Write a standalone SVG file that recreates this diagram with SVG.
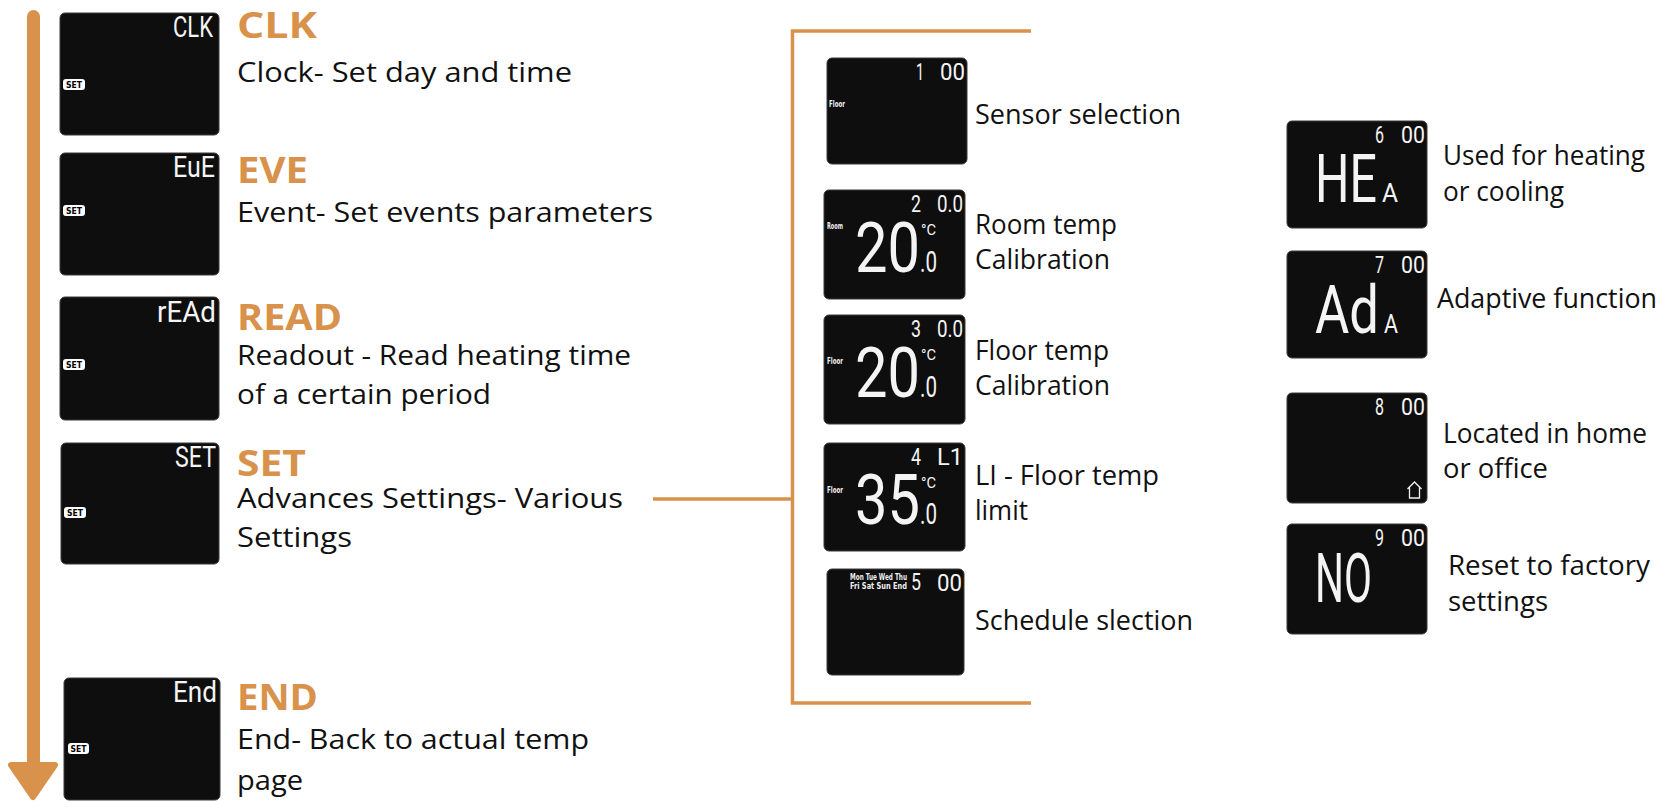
<svg xmlns="http://www.w3.org/2000/svg" width="1667" height="809" viewBox="0 0 1667 809">
<style>
.lcd{fill:#0e0e0e;stroke:#3a3a3a;stroke-width:1}
.seg{fill:#f4f4f4;font-family:"Roboto","Liberation Sans",sans-serif}
.tiny{fill:#f0f0f0;font-family:"DejaVu Sans Condensed","Liberation Sans Narrow","Roboto",sans-serif;font-weight:bold}
.badge{fill:#ffffff}
.badgetxt{fill:#000;font-family:"DejaVu Sans Condensed","Liberation Sans Narrow","Roboto",sans-serif;font-weight:bold;font-size:9px}
.title{fill:#D8924B;font-family:"Open Sans","Lato","Noto Sans",sans-serif;font-weight:bold;font-size:35px}
.desc{fill:#111;font-family:"Open Sans","Lato","Noto Sans",sans-serif;font-size:27px}
.conn{fill:none;stroke:#D8924B;stroke-width:3.5}
</style>

<g id="flow-arrow">
  <rect x="27" y="10" width="13" height="758" rx="6.5" fill="#D8924B"/>
  <polygon points="11,765 55,765 33,797" fill="#D8924B" stroke="#D8924B" stroke-width="6" stroke-linejoin="round"/>
</g>

<g id="connectors">
  <line class="conn" x1="653" y1="499" x2="792.5" y2="499"/>
  <path class="conn" d="M1031,31 H792.5 V703 H1031"/>
</g>

<!-- Left column -->
<g id="node-clk">
  <g transform="translate(60,13)">
    <rect class="lcd" x="0" y="0" width="159" height="122" rx="5"/>
    <text class="seg" x="113" y="24" font-size="29" textLength="40" lengthAdjust="spacingAndGlyphs">CLK</text>
    <rect class="badge" x="3" y="66" width="22" height="11" rx="3"/>
    <text class="badgetxt" x="14" y="75" text-anchor="middle" textLength="16" lengthAdjust="spacingAndGlyphs">SET</text>
  </g>
  <text class="title" x="237" y="38" textLength="80" lengthAdjust="spacingAndGlyphs">CLK</text>
  <text class="desc" x="237" y="82" textLength="335" lengthAdjust="spacingAndGlyphs">Clock- Set day and time</text>
</g>

<g id="node-eve">
  <g transform="translate(60,153)">
    <rect class="lcd" x="0" y="0" width="159" height="122" rx="5"/>
    <text class="seg" x="113" y="24" font-size="29" textLength="42" lengthAdjust="spacingAndGlyphs">EuE</text>
    <rect class="badge" x="3" y="52" width="22" height="11" rx="3"/>
    <text class="badgetxt" x="14" y="61" text-anchor="middle" textLength="16" lengthAdjust="spacingAndGlyphs">SET</text>
  </g>
  <text class="title" x="237" y="183" textLength="71" lengthAdjust="spacingAndGlyphs">EVE</text>
  <text class="desc" x="237" y="222" textLength="416" lengthAdjust="spacingAndGlyphs">Event- Set events parameters</text>
</g>

<g id="node-read">
  <g transform="translate(60,297)">
    <rect class="lcd" x="0" y="0" width="159" height="123" rx="5"/>
    <text class="seg" x="97" y="25" font-size="29" textLength="59" lengthAdjust="spacingAndGlyphs">rEAd</text>
    <rect class="badge" x="3" y="62" width="22" height="11" rx="3"/>
    <text class="badgetxt" x="14" y="71" text-anchor="middle" textLength="16" lengthAdjust="spacingAndGlyphs">SET</text>
  </g>
  <text class="title" x="237" y="330" textLength="105" lengthAdjust="spacingAndGlyphs">READ</text>
  <text class="desc" x="237" y="365" textLength="394" lengthAdjust="spacingAndGlyphs">Readout - Read heating time</text>
  <text class="desc" x="237" y="404" textLength="254" lengthAdjust="spacingAndGlyphs">of a certain period</text>
</g>

<g id="node-set">
  <g transform="translate(61,443)">
    <rect class="lcd" x="0" y="0" width="158" height="121" rx="5"/>
    <text class="seg" x="114" y="24" font-size="29" textLength="41" lengthAdjust="spacingAndGlyphs">SET</text>
    <rect class="badge" x="3" y="64" width="22" height="11" rx="3"/>
    <text class="badgetxt" x="14" y="73" text-anchor="middle" textLength="16" lengthAdjust="spacingAndGlyphs">SET</text>
  </g>
  <text class="title" x="237" y="476" textLength="69" lengthAdjust="spacingAndGlyphs">SET</text>
  <text class="desc" x="237" y="508" textLength="386" lengthAdjust="spacingAndGlyphs">Advances Settings- Various</text>
  <text class="desc" x="237" y="547" textLength="115" lengthAdjust="spacingAndGlyphs">Settings</text>
</g>

<g id="node-end">
  <g transform="translate(64,678)">
    <rect class="lcd" x="0" y="0" width="156" height="122" rx="5"/>
    <text class="seg" x="109" y="24" font-size="29" textLength="44" lengthAdjust="spacingAndGlyphs">End</text>
    <rect class="badge" x="4" y="65" width="21" height="11" rx="3"/>
    <text class="badgetxt" x="14.5" y="74" text-anchor="middle" textLength="16" lengthAdjust="spacingAndGlyphs">SET</text>
  </g>
  <text class="title" x="237" y="710" textLength="81" lengthAdjust="spacingAndGlyphs">END</text>
  <text class="desc" x="237" y="749" textLength="352" lengthAdjust="spacingAndGlyphs">End- Back to actual temp</text>
  <text class="desc" x="237" y="790" textLength="66" lengthAdjust="spacingAndGlyphs">page</text>
</g>

<!-- Middle column -->
<g id="node-1">
  <g transform="translate(827,58)">
    <rect class="lcd" x="0" y="0" width="140" height="106" rx="5"/>
    <text class="seg" x="89" y="22" font-size="23" textLength="8" lengthAdjust="spacingAndGlyphs">1</text>
    <text class="seg" x="113" y="22" font-size="23" textLength="25" lengthAdjust="spacingAndGlyphs">00</text>
    <text class="tiny" x="2" y="49" font-size="8.5" textLength="16" lengthAdjust="spacingAndGlyphs">Floor</text>
  </g>
  <text class="desc" x="975" y="124" textLength="206" lengthAdjust="spacingAndGlyphs">Sensor selection</text>
</g>

<g id="node-2">
  <g transform="translate(824,190)">
    <rect class="lcd" x="0" y="0" width="141" height="109" rx="5"/>
    <text class="seg" x="87" y="22" font-size="23" textLength="10" lengthAdjust="spacingAndGlyphs">2</text>
    <text class="seg" x="113" y="22" font-size="23" textLength="26" lengthAdjust="spacingAndGlyphs">0.0</text>
    <text class="tiny" x="3" y="39" font-size="8.5" textLength="16" lengthAdjust="spacingAndGlyphs">Room</text>
    <text class="seg" x="31" y="82" font-size="70" textLength="65" lengthAdjust="spacingAndGlyphs">20</text>
    <text class="seg" x="96" y="82" font-size="30" textLength="17" lengthAdjust="spacingAndGlyphs">.0</text>
    <text class="seg" x="97" y="45" font-size="15" textLength="15" lengthAdjust="spacingAndGlyphs">°C</text>
  </g>
  <text class="desc" x="975" y="234" textLength="142" lengthAdjust="spacingAndGlyphs">Room temp</text>
  <text class="desc" x="975" y="269" textLength="135" lengthAdjust="spacingAndGlyphs">Calibration</text>
</g>

<g id="node-3">
  <g transform="translate(824,315)">
    <rect class="lcd" x="0" y="0" width="141" height="109" rx="5"/>
    <text class="seg" x="87" y="22" font-size="23" textLength="10" lengthAdjust="spacingAndGlyphs">3</text>
    <text class="seg" x="113" y="22" font-size="23" textLength="26" lengthAdjust="spacingAndGlyphs">0.0</text>
    <text class="tiny" x="3" y="49" font-size="8.5" textLength="16" lengthAdjust="spacingAndGlyphs">Floor</text>
    <text class="seg" x="31" y="82" font-size="70" textLength="65" lengthAdjust="spacingAndGlyphs">20</text>
    <text class="seg" x="96" y="82" font-size="30" textLength="17" lengthAdjust="spacingAndGlyphs">.0</text>
    <text class="seg" x="97" y="45" font-size="15" textLength="15" lengthAdjust="spacingAndGlyphs">°C</text>
  </g>
  <text class="desc" x="975" y="360" textLength="134" lengthAdjust="spacingAndGlyphs">Floor temp</text>
  <text class="desc" x="975" y="395" textLength="135" lengthAdjust="spacingAndGlyphs">Calibration</text>
</g>

<g id="node-4">
  <g transform="translate(824,443)">
    <rect class="lcd" x="0" y="0" width="141" height="108" rx="5"/>
    <text class="seg" x="87" y="22" font-size="23" textLength="10" lengthAdjust="spacingAndGlyphs">4</text>
    <text class="seg" x="113" y="22" font-size="23" textLength="26" lengthAdjust="spacingAndGlyphs">L1</text>
    <text class="tiny" x="3" y="50" font-size="8.5" textLength="16" lengthAdjust="spacingAndGlyphs">Floor</text>
    <text class="seg" x="31" y="81" font-size="70" textLength="65" lengthAdjust="spacingAndGlyphs">35</text>
    <text class="seg" x="96" y="81" font-size="30" textLength="17" lengthAdjust="spacingAndGlyphs">.0</text>
    <text class="seg" x="97" y="45" font-size="15" textLength="15" lengthAdjust="spacingAndGlyphs">°C</text>
  </g>
  <text class="desc" x="975" y="485" textLength="184" lengthAdjust="spacingAndGlyphs">LI - Floor temp</text>
  <text class="desc" x="975" y="520" textLength="53" lengthAdjust="spacingAndGlyphs">limit</text>
</g>

<g id="node-5">
  <g transform="translate(827,569)">
    <rect class="lcd" x="0" y="0" width="137" height="106" rx="5"/>
    <text class="tiny" x="23" y="11" font-size="8" textLength="57" lengthAdjust="spacingAndGlyphs">Mon Tue Wed Thu</text>
    <text class="tiny" x="23" y="20" font-size="8" textLength="57" lengthAdjust="spacingAndGlyphs">Fri  Sat Sun End</text>
    <text class="seg" x="84" y="21" font-size="23" textLength="10" lengthAdjust="spacingAndGlyphs">5</text>
    <text class="seg" x="110" y="22" font-size="23" textLength="25" lengthAdjust="spacingAndGlyphs">00</text>
  </g>
  <text class="desc" x="975" y="630" textLength="218" lengthAdjust="spacingAndGlyphs">Schedule slection</text>
</g>

<!-- Right column -->
<g id="node-6">
  <g transform="translate(1287,121)">
    <rect class="lcd" x="0" y="0" width="140" height="107" rx="5"/>
    <text class="seg" x="88" y="22" font-size="23" textLength="9" lengthAdjust="spacingAndGlyphs">6</text>
    <text class="seg" x="114" y="22" font-size="23" textLength="24" lengthAdjust="spacingAndGlyphs">00</text>
    <text class="seg" x="28" y="81" font-size="66" textLength="62" lengthAdjust="spacingAndGlyphs">HE</text>
    <text class="seg" x="95" y="81" font-size="26" textLength="16" lengthAdjust="spacingAndGlyphs">A</text>
  </g>
  <text class="desc" x="1443" y="165" textLength="202" lengthAdjust="spacingAndGlyphs">Used for heating</text>
  <text class="desc" x="1443" y="201" textLength="121" lengthAdjust="spacingAndGlyphs">or cooling</text>
</g>

<g id="node-7">
  <g transform="translate(1287,251)">
    <rect class="lcd" x="0" y="0" width="140" height="107" rx="5"/>
    <text class="seg" x="88" y="22" font-size="23" textLength="9" lengthAdjust="spacingAndGlyphs">7</text>
    <text class="seg" x="114" y="22" font-size="23" textLength="24" lengthAdjust="spacingAndGlyphs">00</text>
    <text class="seg" x="28" y="82" font-size="66" textLength="64" lengthAdjust="spacingAndGlyphs">Ad</text>
    <text class="seg" x="97" y="82" font-size="26" textLength="14" lengthAdjust="spacingAndGlyphs">A</text>
  </g>
  <text class="desc" x="1437" y="308" textLength="220" lengthAdjust="spacingAndGlyphs">Adaptive function</text>
</g>

<g id="node-8">
  <g transform="translate(1287,393)">
    <rect class="lcd" x="0" y="0" width="140" height="110" rx="5"/>
    <text class="seg" x="88" y="22" font-size="23" textLength="9" lengthAdjust="spacingAndGlyphs">8</text>
    <text class="seg" x="114" y="22" font-size="23" textLength="24" lengthAdjust="spacingAndGlyphs">00</text>
    <path d="M120.5,96 L127.5,89 L134.5,96 M122.5,94.5 V105 H132.5 V94.5" fill="none" stroke="#f0f0f0" stroke-width="1.3"/>
  </g>
  <text class="desc" x="1443" y="443" textLength="204" lengthAdjust="spacingAndGlyphs">Located in home</text>
  <text class="desc" x="1443" y="478" textLength="105" lengthAdjust="spacingAndGlyphs">or office</text>
</g>

<g id="node-9">
  <g transform="translate(1287,524)">
    <rect class="lcd" x="0" y="0" width="140" height="110" rx="5"/>
    <text class="seg" x="88" y="22" font-size="23" textLength="9" lengthAdjust="spacingAndGlyphs">9</text>
    <text class="seg" x="114" y="22" font-size="23" textLength="24" lengthAdjust="spacingAndGlyphs">00</text>
    <text class="seg" x="28" y="78" font-size="68" textLength="57" lengthAdjust="spacingAndGlyphs">NO</text>
  </g>
  <text class="desc" x="1448" y="575" textLength="202" lengthAdjust="spacingAndGlyphs">Reset to factory</text>
  <text class="desc" x="1448" y="611" textLength="100" lengthAdjust="spacingAndGlyphs">settings</text>
</g>
</svg>
